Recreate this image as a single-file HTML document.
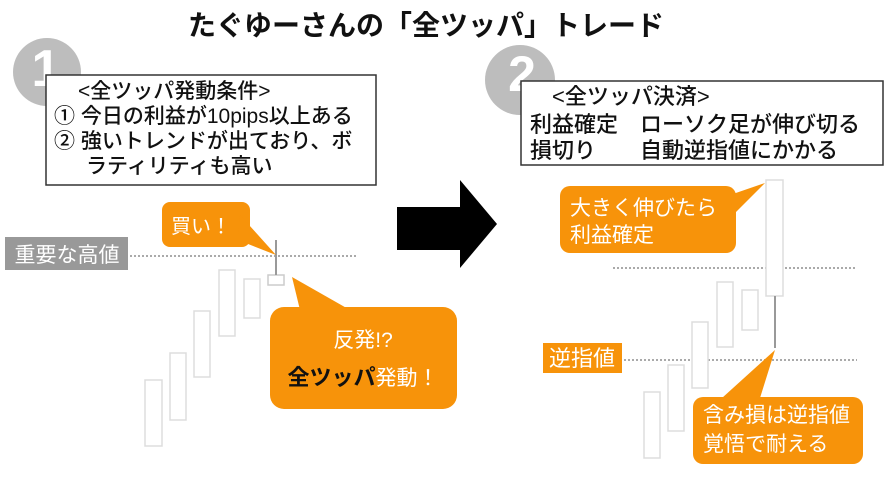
<!DOCTYPE html>
<html><head><meta charset="utf-8"><style>
body{margin:0;width:886px;height:473px;background:#fff;overflow:hidden}
</style></head><body>
<svg width="886" height="473" xmlns="http://www.w3.org/2000/svg" style="font-family:'Liberation Sans','Noto Sans CJK JP',sans-serif">
<text x="426" y="35" font-size="28" font-weight="bold" text-anchor="middle" fill="#111">たぐゆーさんの「全ツッパ」トレード</text>
<circle cx="47" cy="72" r="34" fill="#bdbdbd"/>
<text x="46" y="86" font-size="52" font-weight="bold" fill="#fff" text-anchor="middle">1</text>
<rect x="46" y="75" width="330" height="110" fill="#fff" stroke="#333" stroke-width="1.5"/>
<g font-size="21" fill="#111" font-weight="500">
<text x="78" y="98">&lt;全ツッパ発動条件&gt;</text>
<text x="54" y="123">① 今日の利益が10pips以上ある</text>
<text x="54" y="148">② 強いトレンドが出ており、ボ</text>
<text x="86" y="173">ラティリティも高い</text>
</g>
<circle cx="520" cy="80" r="35" fill="#bdbdbd"/>
<text x="522" y="91" font-size="50" font-weight="bold" fill="#fff" text-anchor="middle">2</text>
<rect x="521" y="81" width="362" height="84" fill="#fff" stroke="#333" stroke-width="1.5"/>
<g font-size="22" fill="#111" font-weight="500">
<text x="552" y="104">&lt;全ツッパ決済&gt;</text>
<text x="530" y="132">利益確定　ローソク足が伸び切る</text>
<text x="530" y="158">損切り　　自動逆指値にかかる</text>
</g>
<polygon points="397,207 460,207 460,180 497,224 460,268 460,250 397,250" fill="#000"/>
<!-- left chart -->
<rect x="5" y="237" width="123" height="33" fill="#999"/>
<text x="67" y="262" font-size="21" fill="#fff" text-anchor="middle">重要な高値</text>
<line x1="130" y1="256" x2="358" y2="256" stroke="#aaa" stroke-width="2" stroke-dasharray="2,2"/>
<g fill="#fff" stroke="#ddd" stroke-width="1.5">
<rect x="145" y="380" width="17" height="66"/><rect x="170" y="353" width="16" height="67"/>
<rect x="194" y="311" width="16" height="66"/><rect x="219" y="270" width="16" height="66"/>
<rect x="244" y="279" width="16" height="39"/><rect x="268" y="275" width="16" height="10" stroke="#ccc"/>
</g>
<line x1="276" y1="240" x2="276" y2="275" stroke="#999" stroke-width="2"/>
<g fill="#f7930a">
<rect x="162" y="202" width="88" height="45" rx="8"/>
<polygon points="240,215 276,255 238,240"/>
<rect x="270" y="307" width="187" height="102" rx="14"/>
<polygon points="292,277 300,310 350,310"/>
</g>
<text x="201" y="233" font-size="20" fill="#fff" text-anchor="middle">買い！</text>
<text x="363" y="347" font-size="21" fill="#fff" text-anchor="middle">反発!?</text>
<text x="363" y="385" font-size="22" text-anchor="middle"><tspan fill="#111" font-weight="bold">全ツッパ</tspan><tspan fill="#fff" font-size="21">発動！</tspan></text>
<!-- right chart -->
<line x1="613" y1="268" x2="857" y2="268" stroke="#aaa" stroke-width="2" stroke-dasharray="2,2"/>
<line x1="624" y1="360" x2="857" y2="360" stroke="#aaa" stroke-width="2" stroke-dasharray="2,2"/>
<g fill="#fff" stroke="#ddd" stroke-width="1.5">
<rect x="644" y="392" width="16" height="66"/><rect x="668" y="365" width="16" height="66"/>
<rect x="692" y="322" width="16" height="66"/><rect x="717" y="282" width="16" height="65"/>
<rect x="742" y="290" width="16" height="40"/><rect x="766" y="180" width="17" height="116"/>
</g>
<line x1="775" y1="296" x2="775" y2="348" stroke="#999" stroke-width="2"/>
<rect x="543" y="343" width="79" height="30" fill="#f7930a"/>
<text x="582" y="366" font-size="22" fill="#fff" text-anchor="middle">逆指値</text>
<g fill="#f7930a">
<rect x="560" y="186" width="176" height="67" rx="10"/>
<polygon points="730,195 765,183 733,215"/>
<rect x="693" y="397" width="170" height="67" rx="10"/>
<polygon points="722,398 775,350 760,398"/>
</g>
<g font-size="21" fill="#fff">
<text x="570" y="215">大きく伸びたら</text>
<text x="570" y="242">利益確定</text>
<text x="703" y="422">含み損は逆指値</text>
<text x="703" y="451">覚悟で耐える</text>
</g>
</svg>
</body></html>
